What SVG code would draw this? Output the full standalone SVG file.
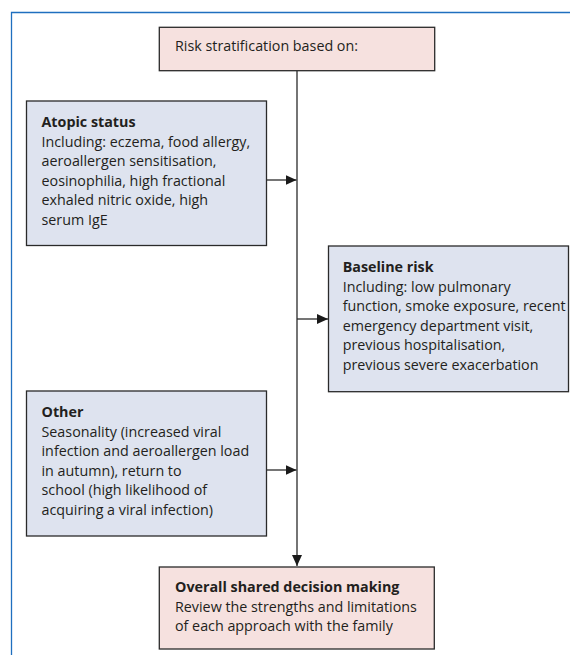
<svg xmlns="http://www.w3.org/2000/svg" width="570" height="655" viewBox="0 0 570 655">
<style>
.box{stroke:#2a2a2a;stroke-width:1.3}
.pink{fill:#f6e1df}
.blue{fill:#dee3ef}
.t{font-family:"Open Sans","Liberation Sans",sans-serif;font-size:14.3px;fill:#231f20}
.b{font-weight:700}
.frame{stroke:#1f6fbf;stroke-width:1.3;fill:none}
.conn{stroke:#2a2a2a;stroke-width:1.3;fill:none}
</style>
<defs>
<marker id="ah" viewBox="0 0 11 10" refX="11" refY="5" markerWidth="11" markerHeight="10" markerUnits="userSpaceOnUse" orient="auto">
<path d="M0,0 L11,5 L0,10 Z" fill="#1a1a1a"/>
</marker>
</defs>
<path class="frame" d="M11.5,655 V12.5 H570"/>
<g id="connectors">
<line class="conn" x1="297" y1="70.7" x2="297" y2="566" marker-end="url(#ah)"/>
<line class="conn" x1="266" y1="180" x2="296.5" y2="180" marker-end="url(#ah)"/>
<line class="conn" x1="297" y1="319" x2="328" y2="319" marker-end="url(#ah)"/>
<line class="conn" x1="266" y1="470" x2="296.5" y2="470" marker-end="url(#ah)"/>
</g>
<g id="top">
<rect class="box pink" x="159.3" y="27.3" width="275.4" height="43.4"/>
<text class="t" x="175" y="51">Risk stratification based on:</text>
</g>
<g id="atopic">
<rect class="box blue" x="26.5" y="101" width="240" height="144.5"/>
<text class="t b" x="41.5" y="127">Atopic status</text>
<text class="t" x="41.5" y="146.5">Including: eczema, food allergy,</text>
<text class="t" x="41.5" y="166">aeroallergen sensitisation,</text>
<text class="t" x="41.5" y="185.5">eosinophilia, high fractional</text>
<text class="t" x="41.5" y="205">exhaled nitric oxide, high</text>
<text class="t" x="41.5" y="224.5">serum IgE</text>
</g>
<g id="baseline">
<rect class="box blue" x="328.5" y="246" width="240" height="145.7"/>
<text class="t b" x="342.7" y="272">Baseline risk</text>
<text class="t" x="342.7" y="291.5">Including: low pulmonary</text>
<text class="t" x="342.7" y="311">function, smoke exposure, recent</text>
<text class="t" x="342.7" y="330.5">emergency department visit,</text>
<text class="t" x="342.7" y="350">previous hospitalisation,</text>
<text class="t" x="342.7" y="369.5">previous severe exacerbation</text>
</g>
<g id="other">
<rect class="box blue" x="26.5" y="391" width="240" height="145"/>
<text class="t b" x="41.5" y="417">Other</text>
<text class="t" x="41.5" y="436.5">Seasonality (increased viral</text>
<text class="t" x="41.5" y="456">infection and aeroallergen load</text>
<text class="t" x="41.5" y="475.5">in autumn), return to</text>
<text class="t" x="41.5" y="495">school (high likelihood of</text>
<text class="t" x="41.5" y="514.5">acquiring a viral infection)</text>
</g>
<g id="decision">
<rect class="box pink" x="159.3" y="567" width="275" height="82"/>
<text class="t b" x="175" y="592">Overall shared decision making</text>
<text class="t" x="175" y="611.5">Review the strengths and limitations</text>
<text class="t" x="175" y="631">of each approach with the family</text>
</g>
</svg>
